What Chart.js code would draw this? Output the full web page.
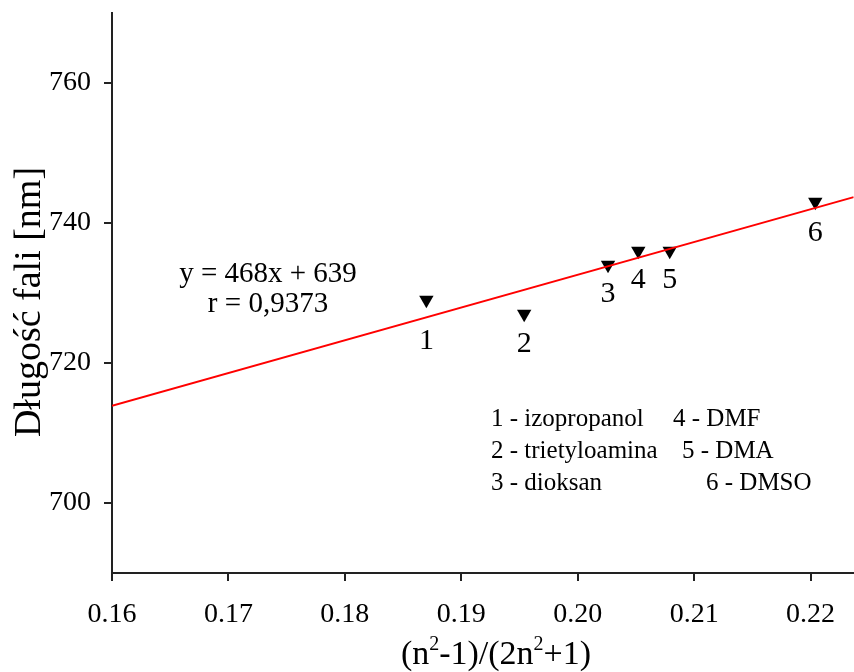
<!DOCTYPE html>
<html>
<head>
<meta charset="utf-8">
<script src="https://cdn.jsdelivr.net/npm/chart.js@4"></script>
<style>
  html, body { margin: 0; padding: 0; background: #fff; overflow: hidden; }
  #wrap { width: 862px; height: 672px; }
</style>
</head>
<body>
<div id="wrap"><canvas id="chart-canvas"></canvas></div>
<script>
// measured points (solvents 1..6)
const pointX = [0.187, 0.1954, 0.2026, 0.2052, 0.2079, 0.2204];
const pointY = [729, 727, 734, 736, 736, 743];
const pointLabels = ['1', '2', '3', '4', '5', '6'];
const labelOffsets = [41, 30, 29, 29, 29, 31];

// fitted line y = 468x + 639, endpoints
const fitX = [0.16, 0.2237];
const fitY = [713.9, 743.7];

const xTicks = [0.16, 0.17, 0.18, 0.19, 0.20, 0.21, 0.22];
const yTicks = [700, 720, 740, 760];

const eqText = ['y = 468x + 639', 'r = 0,9373'];
const legendLeft = ['1 - izopropanol', '2 - trietyloamina', '3 - dioksan'];
const legendRight = ['4 - DMF', '5 - DMA', '6 - DMSO'];
const yTitle = 'Długość fali [nm]';

const serif = '"Liberation Serif", "Times New Roman", serif';

const annotate = {
  id: 'annotate',
  afterDatasetsDraw(chart) {
    const { ctx, scales } = chart;
    ctx.save();
    ctx.fillStyle = '#000';
    ctx.textAlign = 'center';
    ctx.textBaseline = 'middle';
    ctx.font = '30px ' + serif;
    pointX.forEach((x, i) => {
      const px = scales.x.getPixelForValue(x);
      const py = scales.y.getPixelForValue(pointY[i]);
      ctx.fillText(pointLabels[i], px, py + labelOffsets[i]);
    });

    ctx.font = '29px ' + serif;
    ctx.fillText(eqText[0], 268, 274);
    ctx.fillText(eqText[1], 268, 304);

    ctx.font = '25px ' + serif;
    ctx.textAlign = 'left';
    legendLeft.forEach((t, i) => ctx.fillText(t, 491, 419 + i * 32));
    ctx.fillText(legendRight[0], 673, 419);
    ctx.fillText(legendRight[1], 682, 451);
    ctx.fillText(legendRight[2], 706, 483);

    // y axis title
    ctx.save();
    ctx.translate(30, 302);
    ctx.rotate(-Math.PI / 2);
    ctx.textAlign = 'center';
    ctx.font = '38px ' + serif;
    ctx.fillText(yTitle, 0, 0);
    ctx.restore();

    // x axis title with superscripts
    const parts = [['(n', 0], ['2', 1], ['-1)/(2n', 0], ['2', 1], ['+1)', 0]];
    const big = '34px ' + serif, small = '20px ' + serif;
    let w = 0;
    parts.forEach(([s, sup]) => { ctx.font = sup ? small : big; w += ctx.measureText(s).width; });
    let cx = 496 - w / 2;
    const base = 664;
    ctx.textBaseline = 'alphabetic';
    parts.forEach(([s, sup]) => {
      ctx.font = sup ? small : big;
      ctx.fillText(s, cx, sup ? base - 14 : base);
      cx += ctx.measureText(s).width;
    });
    ctx.restore();
  }
};

const ctx = document.getElementById('chart-canvas').getContext('2d');
new Chart(ctx, {
  type: 'scatter',
  data: {
    datasets: [
      {
        type: 'line',
        data: fitX.map((x, i) => ({ x, y: fitY[i] })),
        borderColor: '#ff0000',
        borderWidth: 2,
        pointRadius: 0,
        fill: false,
      },
      {
        data: pointX.map((x, i) => ({ x, y: pointY[i] })),
        pointStyle: 'triangle',
        rotation: 180,
        pointRadius: 8.3,
        backgroundColor: '#000',
        borderColor: '#000',
        borderWidth: 0,
      }
    ]
  },
  options: {
    responsive: true,
    maintainAspectRatio: false,
    animation: false,
    layout: { padding: { top: 13, right: 0, left: 0, bottom: 0 } },
    plugins: {
      legend: { display: false },
      tooltip: { enabled: false }
    },
    scales: {
      x: {
        type: 'linear',
        min: 0.16,
        max: 0.2237,
        afterBuildTicks: s => { s.ticks = xTicks.map(v => ({ value: v })); },
        afterFit: s => { s.height = 99; s.paddingLeft = 0; s.paddingRight = 0; },
        border: { display: true, color: '#222', width: 2 },
        grid: { drawOnChartArea: false, drawTicks: true, tickLength: 8, color: '#222', lineWidth: 2 },
        ticks: {
          color: '#000',
          padding: 17,
          maxRotation: 0,
          autoSkip: false,
          font: { family: serif, size: 28 },
          callback: v => v.toFixed(2)
        }
      },
      y: {
        min: 690,
        max: 770,
        afterBuildTicks: s => { s.ticks = yTicks.map(v => ({ value: v })); },
        afterFit: s => { s.width = 112; s.paddingTop = 0; s.paddingBottom = 0; },
        border: { display: true, color: '#222', width: 2 },
        grid: { drawOnChartArea: false, drawTicks: true, tickLength: 8, color: '#222', lineWidth: 2 },
        ticks: {
          color: '#000',
          padding: 13,
          font: { family: serif, size: 28 }
        }
      }
    }
  },
  plugins: [annotate]
});
</script>
</body>
</html>
